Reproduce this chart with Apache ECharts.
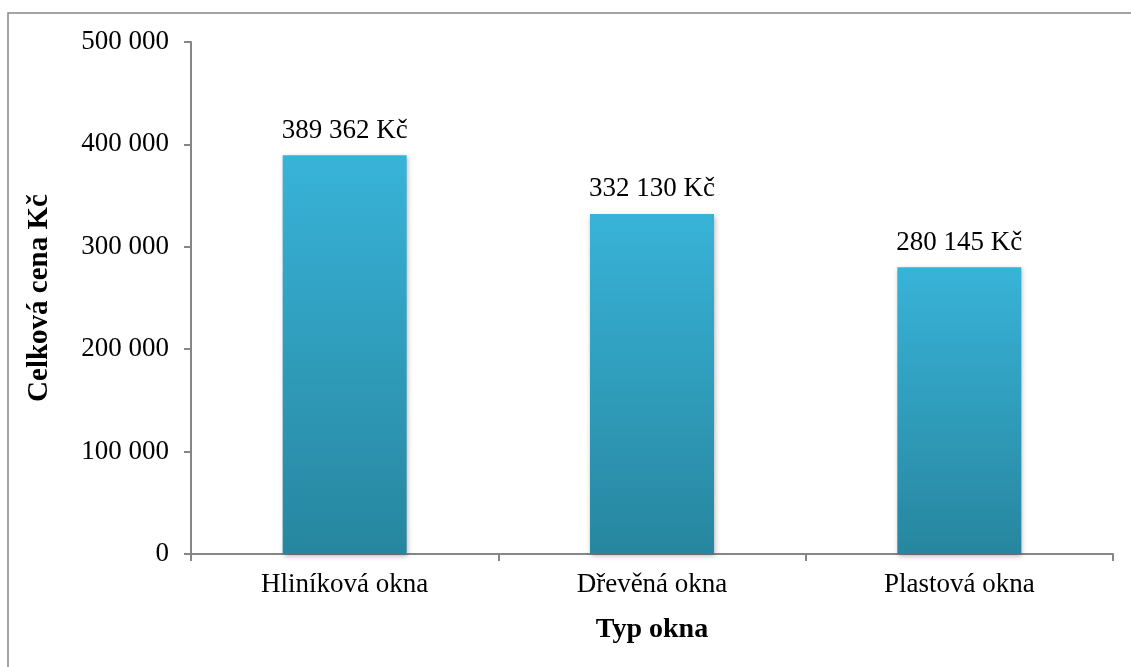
<!DOCTYPE html>
<html>
<head>
<meta charset="utf-8">
<script src="https://cdn.jsdelivr.net/npm/echarts@6/dist/echarts.min.js"></script>
<style>
html,body{margin:0;padding:0;background:#fff;}
#c{width:1131px;height:667px;}
</style>
</head>
<body>
<div id="c"></div>
<script>
const categories = ["Hliníková okna", "Dřevěná okna", "Plastová okna"];
const values = [389362, 332130, 280145];
const yTicks = [0, 100000, 200000, 300000, 400000, 500000];

function fmt(v){ return String(v).replace(/\B(?=(\d{3})+(?!\d))/g, ' '); }

const chart = echarts.init(document.getElementById('c'));
const font = '"Liberation Serif", "Times New Roman", serif';
chart.setOption({
  animation: false,
  backgroundColor: '#fff',
  textStyle: { fontFamily: font },
  graphic: [{
    type: 'rect',
    shape: { x: 8, y: 13, width: 1140, height: 680 },
    style: { fill: 'none', stroke: '#888', lineWidth: 1.5 },
    silent: true
  }],
  grid: { left: 191, right: 18, top: 42, bottom: 113, containLabel: false },
  xAxis: {
    type: 'category',
    data: categories,
    name: 'Typ okna',
    nameLocation: 'middle',
    nameGap: 62,
    nameTextStyle: { fontFamily: font, fontWeight: 'bold', fontSize: 28, color: '#000' },
    axisLine: { lineStyle: { color: '#868686', width: 2 } },
    axisTick: { show: true, length: 7, lineStyle: { color: '#868686', width: 2 } },
    axisLabel: { fontFamily: font, fontSize: 27, color: '#000', margin: 17 }
  },
  yAxis: {
    type: 'value',
    min: yTicks[0],
    max: yTicks[yTicks.length - 1],
    interval: yTicks[1] - yTicks[0],
    name: 'Celková cena Kč',
    nameLocation: 'middle',
    nameGap: 137,
    nameTextStyle: { fontFamily: font, fontWeight: 'bold', fontSize: 29, color: '#000' },
    axisLine: { show: true, lineStyle: { color: '#868686', width: 2 } },
    axisTick: { show: true, length: 7, lineStyle: { color: '#868686', width: 2 } },
    splitLine: { show: false },
    axisLabel: { fontFamily: font, fontSize: 27, color: '#000', margin: 22, formatter: v => fmt(v) }
  },
  series: [{
    type: 'bar',
    data: values,
    barWidth: 124,
    itemStyle: {
      color: new echarts.graphic.LinearGradient(0, 0, 0, 1, [
        { offset: 0, color: '#38b3d8' },
        { offset: 1, color: '#27869f' }
      ]),
      shadowBlur: 5,
      shadowColor: 'rgba(0,0,0,0.3)',
      shadowOffsetX: 1,
      shadowOffsetY: 2
    },
    label: {
      show: true,
      position: 'top',
      distance: 11,
      fontFamily: font,
      fontSize: 27,
      color: '#000',
      formatter: p => fmt(p.value) + ' Kč'
    }
  }]
});
</script>
</body>
</html>
